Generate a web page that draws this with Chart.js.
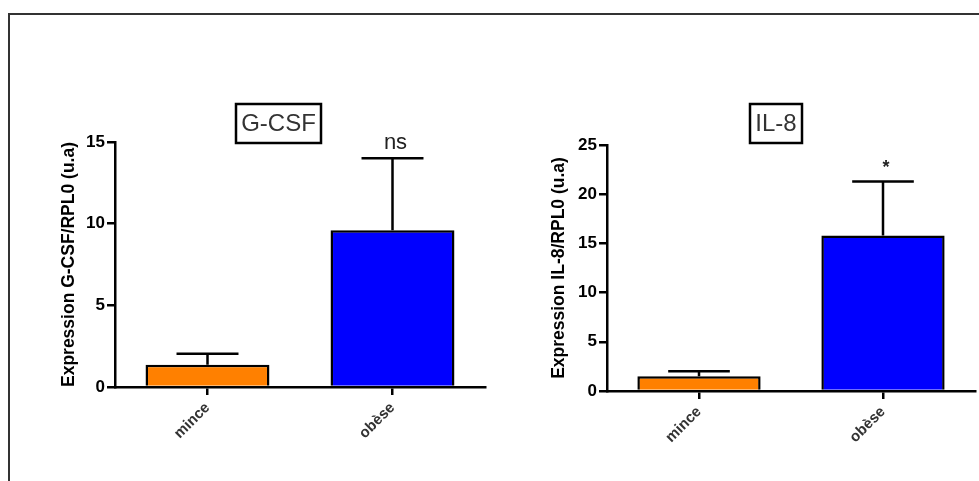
<!DOCTYPE html>
<html>
<head>
<meta charset="utf-8">
<script src="https://cdn.jsdelivr.net/npm/chart.js@4.4.0/dist/chart.umd.min.js"></script>
<style>
  body { margin: 0; background: #fff; width: 979px; height: 481px; overflow: hidden; position: relative; }
  #frame { position: absolute; left: 8px; top: 13px; width: 1000px; height: 500px; border: 2px solid #333; }
  .panel { position: absolute; top: 0; height: 481px; }
</style>
</head>
<body>
<div id="frame"></div>
<div class="panel" style="left:0;width:490px"><canvas id="chart-gcsf" width="490" height="481"></canvas></div>
<div class="panel" style="left:490px;width:489px"><canvas id="chart-il8" width="489" height="481"></canvas></div>
<script>
// --- Données ---
const categories = ['mince', 'obèse'];
const gcsfMeans = [1.36, 9.6];
const gcsfUpper = [2.03, 14.0];   // extrémité haute de la barre d'erreur
const il8Means = [1.5, 15.8];
const il8Upper = [2.0, 21.3];
const gcsfMax = 15;
const il8Max = 25;
const tickStep = 5;
const barColors = ['#FF8000', '#0000FF'];
const gcsfMarks = ['', 'ns'];
const il8Marks = ['', '*'];

const FONT = "'Liberation Sans', Arial, sans-serif";

// Barres d'erreur (vers le haut) + annotation de significativité
const errorBarPlugin = {
    id: 'errorBars',
    afterDatasetsDraw(chart, args, opts) {
        const { ctx } = chart;
        const yScale = chart.scales.y;
        const meta = chart.getDatasetMeta(0);
        ctx.save();
        meta.data.forEach((bar, i) => {
            const yErr = yScale.getPixelForValue(opts.upper[i]);
            const cap = bar.width * 0.5;
            ctx.strokeStyle = '#000';
            ctx.lineWidth = 2.5;
            ctx.beginPath();
            ctx.moveTo(bar.x, bar.y);
            ctx.lineTo(bar.x, yErr);
            ctx.moveTo(bar.x - cap / 2, yErr);
            ctx.lineTo(bar.x + cap / 2, yErr);
            ctx.stroke();
            if (opts.marks[i]) {
                ctx.fillStyle = '#222';
                ctx.font = opts.markFont;
                ctx.textAlign = 'center';
                ctx.textBaseline = 'bottom';
                ctx.fillText(opts.marks[i], bar.x + 3, yErr - opts.markGap);
            }
        });
        ctx.restore();
    }
};

// Titre encadré
const boxTitlePlugin = {
    id: 'boxTitle',
    afterDraw(chart, args, opts) {
        const { ctx } = chart;
        ctx.save();
        ctx.lineWidth = 2.5;
        ctx.strokeStyle = '#000';
        ctx.strokeRect(opts.x, opts.y, opts.w, opts.h);
        ctx.fillStyle = '#333';
        ctx.font = '24px ' + FONT;
        ctx.textAlign = 'center';
        ctx.textBaseline = 'middle';
        ctx.fillText(opts.text, opts.x + opts.w / 2, opts.y + opts.h / 2 + 1);
        ctx.restore();
    }
};

function buildChart(canvasId, cfg) {
    const ctx = document.getElementById(canvasId).getContext('2d');
    return new Chart(ctx, {
        type: 'bar',
        data: {
            labels: categories,
            datasets: [{
                data: cfg.means,
                backgroundColor: barColors,
                borderColor: '#000',
                borderWidth: 2.5,
                barPercentage: 0.67,
                categoryPercentage: 1.0
            }]
        },
        options: {
            responsive: false,
            animation: false,
            layout: { padding: { top: cfg.top, right: cfg.right, left: 0, bottom: 0 } },
            scales: {
                x: {
                    z: 1,
                    afterFit: scale => { scale.height = cfg.xHeight; },
                    grid: { display: true, drawOnChartArea: false, drawTicks: true, tickLength: 8, color: '#000', lineWidth: 2.5, offset: false },
                    border: { display: true, color: '#000', width: 2.5 },
                    ticks: { color: '#333', font: { family: FONT, size: 15, weight: 'bold' }, minRotation: 45, maxRotation: 45, padding: 4 }
                },
                y: {
                    z: 1,
                    min: 0,
                    max: cfg.max,
                    afterFit: scale => { scale.width = cfg.yWidth; },
                    grid: { display: true, drawOnChartArea: false, drawTicks: true, tickLength: 8, color: '#000', lineWidth: 2.5 },
                    border: { display: true, color: '#000', width: 2.5 },
                    ticks: { stepSize: tickStep, color: '#000', font: { family: FONT, size: 17, weight: 'bold' }, padding: 2 },
                    title: {
                        display: true,
                        text: cfg.yTitle,
                        color: '#000',
                        font: { family: FONT, size: 17.5, weight: 'bold' },
                        padding: { top: 59, bottom: 0 }
                    }
                }
            },
            plugins: {
                legend: { display: false },
                tooltip: { enabled: false },
                errorBars: { upper: cfg.upper, marks: cfg.marks, markFont: cfg.markFont, markGap: cfg.markGap },
                boxTitle: cfg.box
            }
        },
        plugins: [errorBarPlugin, boxTitlePlugin]
    });
}

buildChart('chart-gcsf', {
    means: gcsfMeans, upper: gcsfUpper, max: gcsfMax, marks: gcsfMarks,
    markFont: '22px ' + FONT, markGap: 4,
    yTitle: 'Expression G-CSF/RPL0 (u.a)',
    top: 142, right: 5, yWidth: 115, xHeight: 94,
    box: { text: 'G-CSF', x: 236, y: 104, w: 85, h: 39 }
});

buildChart('chart-il8', {
    means: il8Means, upper: il8Upper, max: il8Max, marks: il8Marks,
    markFont: 'bold 18px ' + FONT, markGap: 4,
    yTitle: 'Expression IL-8/RPL0 (u.a)',
    top: 145, right: 4, yWidth: 117, xHeight: 90,
    box: { text: 'IL-8', x: 260, y: 104, w: 52, h: 39 }
});
</script>
</body>
</html>
